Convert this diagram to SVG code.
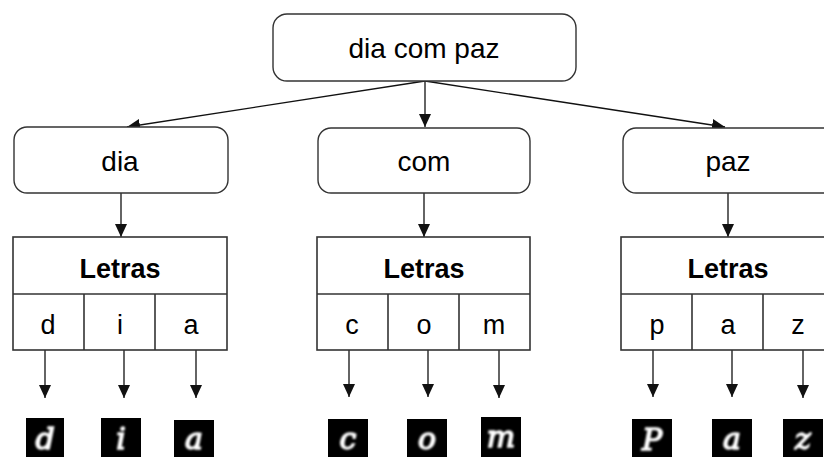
<svg xmlns="http://www.w3.org/2000/svg" width="824" height="457" viewBox="0 0 824 457">
<style>
.box{fill:#fff;stroke:#333;stroke-width:1.4}
.tbl{fill:#fff;stroke:#333;stroke-width:1.6}
.lbl{font-family:"Liberation Sans",Arial,sans-serif;font-size:28px;fill:#000;text-anchor:middle}
.hdr{font-family:"Liberation Sans",Arial,sans-serif;font-size:27px;font-weight:bold;fill:#000;text-anchor:middle}
.cell{font-family:"Liberation Sans",Arial,sans-serif;font-size:27px;fill:#000;text-anchor:middle}
.conn{stroke:#111;stroke-width:1.3;fill:none;marker-end:url(#ah)}
.img{fill:#000}
.hw{font-family:"DejaVu Serif",serif;font-style:italic;font-size:30px;fill:#fff;stroke:#fff;stroke-width:1.5;text-anchor:middle;filter:url(#glow)}
</style>
<defs>
<marker id="ah" viewBox="0 0 13 12" refX="13" refY="6" markerWidth="13" markerHeight="12" markerUnits="userSpaceOnUse" orient="auto">
<path d="M0,0 L13,6 L0,12 Z" fill="#111"/>
</marker>
<filter id="glow" x="-20%" y="-20%" width="140%" height="140%">
<feGaussianBlur stdDeviation="0.9"/>
</filter>
</defs>
<rect width="824" height="457" fill="#fff"/>

<g id="connectors">
<line class="conn" x1="425" y1="81" x2="127" y2="127"/>
<line class="conn" x1="425" y1="81" x2="425" y2="127"/>
<line class="conn" x1="425" y1="81" x2="725" y2="127"/>
<line class="conn" x1="121" y1="193" x2="121" y2="237"/>
<line class="conn" x1="424" y1="193" x2="424" y2="237"/>
<line class="conn" x1="728" y1="193" x2="728" y2="237"/>
<line class="conn" x1="45" y1="350" x2="45" y2="398"/>
<line class="conn" x1="124" y1="350" x2="124" y2="398"/>
<line class="conn" x1="196" y1="350" x2="196" y2="398"/>
<line class="conn" x1="349" y1="350" x2="349" y2="397"/>
<line class="conn" x1="428" y1="350" x2="428" y2="397"/>
<line class="conn" x1="499" y1="350" x2="499" y2="398"/>
<line class="conn" x1="653" y1="350" x2="653" y2="397"/>
<line class="conn" x1="732" y1="350" x2="732" y2="397"/>
<line class="conn" x1="803" y1="350" x2="803" y2="398"/>
</g>

<g id="root">
<rect class="box" x="273" y="14" width="303" height="67" rx="14"/>
<text class="lbl" x="424" y="58" font-size="30">dia com paz</text>
</g>

<g id="node-dia">
<rect class="box" x="14" y="127" width="214" height="66" rx="13"/>
<text class="lbl" x="120" y="171">dia</text>
</g>
<g id="node-com">
<rect class="box" x="318" y="128" width="212" height="65" rx="13"/>
<text class="lbl" x="424" y="171">com</text>
</g>
<g id="node-paz">
<rect class="box" x="623" y="128" width="214" height="65" rx="13"/>
<text class="lbl" x="728" y="171">paz</text>
</g>

<g id="table-dia">
<rect class="tbl" x="13" y="237" width="214" height="113"/>
<line class="tbl" x1="13" y1="294" x2="227" y2="294"/>
<line class="tbl" x1="84" y1="294" x2="84" y2="350"/>
<line class="tbl" x1="155" y1="294" x2="155" y2="350"/>
<text class="hdr" x="120" y="278">Letras</text>
<text class="cell" x="48" y="334">d</text>
<text class="cell" x="120" y="334">i</text>
<text class="cell" x="191" y="334">a</text>
</g>
<g id="table-com">
<rect class="tbl" x="317" y="237" width="213" height="113"/>
<line class="tbl" x1="317" y1="294" x2="530" y2="294"/>
<line class="tbl" x1="388" y1="294" x2="388" y2="350"/>
<line class="tbl" x1="459" y1="294" x2="459" y2="350"/>
<text class="hdr" x="424" y="278">Letras</text>
<text class="cell" x="352" y="334">c</text>
<text class="cell" x="424" y="334">o</text>
<text class="cell" x="494" y="334">m</text>
</g>
<g id="table-paz">
<rect class="tbl" x="621" y="237" width="213" height="113"/>
<line class="tbl" x1="621" y1="294" x2="834" y2="294"/>
<line class="tbl" x1="692" y1="294" x2="692" y2="350"/>
<line class="tbl" x1="763" y1="294" x2="763" y2="350"/>
<text class="hdr" x="728" y="278">Letras</text>
<text class="cell" x="657" y="334">p</text>
<text class="cell" x="728" y="334">a</text>
<text class="cell" x="798" y="334">z</text>
</g>

<g id="img-d"><rect class="img" x="26" y="418" width="38" height="39"/><text class="hw" x="45" y="449">d</text></g>
<g id="img-i"><rect class="img" x="101" y="418" width="40" height="39"/><text class="hw" x="121" y="449">i</text></g>
<g id="img-a1"><rect class="img" x="174" y="420" width="40" height="37"/><text class="hw" x="194" y="449">a</text></g>
<g id="img-c"><rect class="img" x="328" y="419" width="40" height="38"/><text class="hw" x="348" y="449">c</text></g>
<g id="img-o"><rect class="img" x="407" y="419" width="40" height="38"/><text class="hw" x="427" y="449">o</text></g>
<g id="img-m"><rect class="img" x="481" y="417" width="40" height="40"/><text class="hw" x="501" y="447">m</text></g>
<g id="img-p"><rect class="img" x="632" y="419" width="40" height="38"/><text class="hw" x="652" y="450">P</text></g>
<g id="img-a2"><rect class="img" x="712" y="419" width="40" height="38"/><text class="hw" x="732" y="449">a</text></g>
<g id="img-z"><rect class="img" x="783" y="419" width="40" height="38"/><text class="hw" x="803" y="449">z</text></g>
</svg>
